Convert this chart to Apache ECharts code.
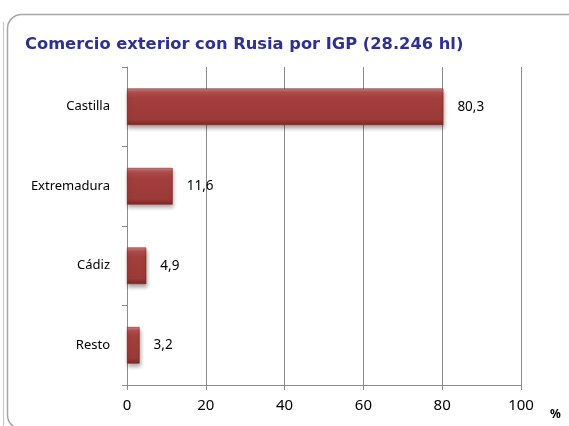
<!DOCTYPE html>
<html>
<head>
<meta charset="utf-8">
<script src="https://cdn.jsdelivr.net/npm/echarts@6/dist/echarts.min.js"></script>
<style>
  html, body { margin: 0; padding: 0; background: #fff; }
  #chart { width: 569px; height: 426px; }
</style>
</head>
<body>
<div id="chart"></div>
<script>
// Share of exports to Russia by protected geographical indication (IGP)
const categories = ['Castilla', 'Extremadura', 'Cádiz', 'Resto'];
const shares = [80.3, 11.6, 4.9, 3.2];
const xTicks = [0, 20, 40, 60, 80, 100];

const chart = echarts.init(document.getElementById('chart'), null, { renderer: 'canvas' });

const barFill = new echarts.graphic.LinearGradient(0, 0, 0, 1, [
  { offset: 0, color: '#d98482' },
  { offset: 0.1, color: '#b4514f' },
  { offset: 0.25, color: '#a33f3d' },
  { offset: 0.85, color: '#9b3a38' },
  { offset: 1, color: '#7a2827' }
]);

chart.setOption({
  animation: false,
  textStyle: { fontFamily: 'Noto Sans' },
  graphic: [
    {
      type: 'rect',
      shape: { x: 7.5, y: 14.5, width: 600, height: 414.5, r: 14 },
      style: { fill: 'none', stroke: '#a6a6a6', lineWidth: 1.5 },
      z: -1
    },
    {
      type: 'line',
      shape: { x1: 3.5, y1: 22, x2: 3.5, y2: 426 },
      style: { stroke: '#c8c8c8', lineWidth: 1.2 },
      z: -1
    },
    {
      type: 'text',
      left: 25,
      top: 37,
      style: {
        text: 'Comercio exterior con Rusia por IGP (28.246 hl)',
        fill: '#2e3192',
        font: 'bold 16.3px "DejaVu Sans"'
      }
    },
    {
      type: 'text',
      left: 550,
      top: 409,
      style: { text: '%', fill: '#000', font: 'bold 12px "Noto Sans"' }
    }
  ],
  grid: { left: 127, right: 48, top: 67, bottom: 41, containLabel: false },
  xAxis: {
    type: 'value',
    min: xTicks[0],
    max: xTicks[xTicks.length - 1],
    interval: 20,
    axisLine: { show: true, lineStyle: { color: '#8c8c8c', width: 1 } },
    axisTick: { show: true, length: 5, lineStyle: { color: '#8c8c8c' } },
    axisLabel: { color: '#000', fontSize: 15, margin: 13, fontFamily: 'Noto Sans' },
    splitLine: { show: true, lineStyle: { color: '#8c8c8c', width: 1 } }
  },
  yAxis: {
    type: 'category',
    data: categories,
    inverse: true,
    axisLine: { show: true, lineStyle: { color: '#8c8c8c', width: 1 } },
    axisTick: { show: true, length: 5, lineStyle: { color: '#8c8c8c' } },
    axisLabel: { color: '#000', fontSize: 13, margin: 17, fontFamily: 'Noto Sans' }
  },
  series: [{
    type: 'bar',
    data: shares,
    barWidth: '46%',
    itemStyle: {
      color: barFill,
      borderColor: '#7a2827',
      borderWidth: 0.6,
      shadowColor: 'rgba(0,0,0,0.35)',
      shadowBlur: 4,
      shadowOffsetX: 1,
      shadowOffsetY: 3
    },
    label: {
      show: true,
      position: 'right',
      distance: 14,
      color: '#000',
      fontSize: 13.5,
      fontFamily: 'Noto Sans',
      formatter: p => String(p.value).replace('.', ',')
    }
  }]
});
</script>
</body>
</html>
